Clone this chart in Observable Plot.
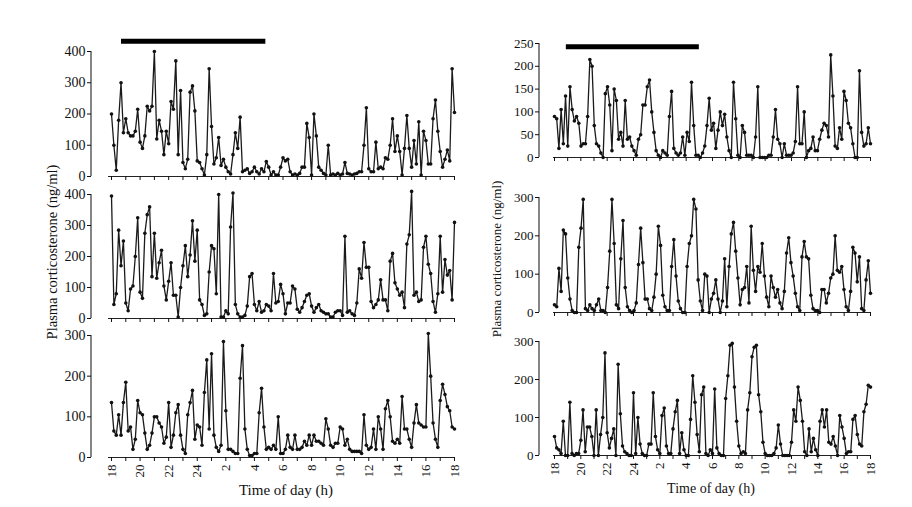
<!DOCTYPE html>
<html><head><meta charset="utf-8">
<script src="https://cdn.jsdelivr.net/npm/d3@7"></script>
<script src="https://cdn.jsdelivr.net/npm/@observablehq/plot@0.6"></script>
<style>
body{margin:0;background:#fff;}
#root{position:relative;width:912px;height:507px;overflow:hidden;font-family:"Liberation Serif","DejaVu Serif",serif;color:#111}
.panel{position:absolute}
.ylab{position:absolute;transform:translate(-50%,-50%) rotate(-90deg);white-space:nowrap}
.xlab{position:absolute;transform:translateX(-50%);white-space:nowrap}
</style></head>
<body><div id="root"></div>
<script>
// Plasma corticosterone (ng/ml), sampled every 10 min from 18:00 to 18:00
const topLeft = [200,100,20,180,300,140,185,140,130,130,145,215,110,90,130,225,210,225,400,120,180,145,70,145,105,240,215,370,70,275,45,25,55,270,290,210,50,45,25,5,70,345,160,40,60,125,35,55,30,15,8,70,140,90,190,15,20,25,10,15,30,15,8,25,15,48,30,5,15,5,5,30,60,50,55,15,5,8,5,10,30,30,170,125,5,200,130,30,20,10,5,100,5,8,5,10,5,8,45,10,8,5,8,10,15,15,100,220,25,15,15,110,25,30,25,60,55,100,185,80,130,80,5,90,195,90,30,115,40,175,5,145,115,40,40,185,245,145,80,30,55,85,50,345,205];
const midLeft = [395,45,80,285,170,250,50,25,95,105,200,325,85,65,275,335,360,135,275,130,180,220,105,60,120,180,75,75,5,100,170,235,135,205,315,185,285,60,45,10,15,150,235,225,80,400,5,5,25,15,295,405,45,15,5,5,10,40,135,145,45,25,55,20,25,45,40,25,145,50,55,110,80,15,50,50,105,95,30,20,35,55,75,80,40,20,35,45,25,20,15,15,5,5,20,25,25,10,265,20,25,15,10,50,160,130,245,165,165,55,35,45,60,125,60,60,25,185,210,115,95,75,85,35,240,270,410,75,85,55,60,230,265,175,145,55,20,80,265,85,190,140,155,60,310];
const botLeft = [135,65,55,105,55,135,185,65,75,20,45,140,110,105,60,20,30,60,100,100,85,75,35,50,135,25,55,110,130,55,20,10,105,135,165,45,80,75,30,160,240,70,255,55,25,15,30,285,115,20,20,15,10,10,195,275,70,20,5,5,10,10,110,170,75,20,25,20,30,20,100,10,10,20,55,25,20,55,20,20,25,40,30,55,30,55,40,40,35,30,95,70,30,25,35,35,75,70,30,45,20,15,15,15,15,10,105,30,20,25,70,20,100,70,20,120,140,100,40,35,45,35,150,70,70,45,25,85,130,85,80,75,75,305,200,85,45,25,140,180,155,125,115,75,70];
const topRight = [90,85,20,105,30,135,25,155,105,80,90,75,25,30,30,90,215,200,70,30,25,10,0,140,155,115,15,150,125,40,55,25,125,40,45,25,15,5,40,50,115,115,155,170,100,55,15,5,0,15,10,5,90,145,20,10,5,10,45,5,55,35,165,70,5,5,0,10,25,70,130,60,75,20,60,100,70,95,45,15,0,165,85,5,0,70,55,5,5,5,0,45,155,0,0,0,0,5,5,45,105,40,30,0,30,5,5,5,10,35,155,30,30,100,0,15,20,45,15,15,40,60,75,70,45,225,135,25,20,65,40,145,125,75,65,30,0,0,190,55,25,30,65,30];
const midRight = [20,15,115,55,215,205,90,35,5,0,0,170,220,295,10,5,20,10,5,20,35,5,5,0,65,160,295,180,20,10,140,240,65,15,5,0,5,25,125,220,130,35,35,10,5,40,100,225,175,45,15,5,5,120,190,95,30,10,0,0,120,180,200,295,270,85,30,5,100,95,0,35,50,85,35,0,30,140,15,120,205,235,160,90,20,60,65,120,25,225,110,55,120,105,180,95,40,15,95,65,40,60,25,10,55,155,195,130,95,50,15,5,145,185,145,140,45,10,5,5,0,60,60,25,50,90,100,200,110,105,120,60,15,5,55,170,155,80,145,10,5,85,135,50];
const botRight = [50,20,15,5,90,0,0,140,5,0,5,5,40,120,10,75,75,50,0,120,0,55,100,270,60,20,45,70,0,240,110,25,10,5,0,0,165,5,100,30,5,0,0,30,30,165,50,15,5,105,125,25,5,5,70,115,145,5,60,15,0,0,95,210,140,55,10,160,180,5,0,15,5,175,20,5,0,0,150,210,290,295,180,90,25,5,10,5,120,165,260,285,290,160,115,35,5,0,0,0,5,20,80,30,0,0,0,0,35,120,90,180,145,90,10,0,70,10,45,15,0,90,120,75,120,35,30,50,25,0,105,75,45,5,10,10,95,105,55,30,25,115,135,185,180];

// x axis: hours elapsed since 18:00
const hourTicks = [0,1,2,3,4,5,6,7,8,9,10,11,12,13,14,15,16,17,18,19,20,21,22,23,24];
const labelHours = [0,2,4,6,8,10,12,14,16,18,20,22,24];
const labelText = ["18","20","22","24","2","4","6","8","10","12","14","16","18"];
const yTicks400 = [0,100,200,300,400];
const yTicks300 = [0,100,200,300];
const yTicks250 = [0,50,100,150,200,250];
// dark period bars (hours since 18:00) and their level in data units
const darkLeft = [{x1: 0.7, x2: 10.8, y: 433}];
const darkRight = [{x1: 0.9, x2: 11.0, y: 243}];

const labelMap = new Map(labelHours.map((h, i) => [h, labelText[i]]));
const root = document.getElementById("root");

function series(values) {
  const n = values.length;
  return values.map((v, i) => ({t: i * 24 / (n - 1), v}));
}

function leftFrame(index, scales, values, dim) {
  const g = d3.create("svg:g");
  g.append("line").attr("x1", dim.marginLeft).attr("x2", dim.marginLeft)
    .attr("y1", dim.marginTop).attr("y2", dim.height - dim.marginBottom)
    .attr("stroke", "#222").attr("stroke-width", 1.1);
  return g.node();
}

function panel(o) {
  const data = series(o.values);
  const marks = [
    leftFrame,
    Plot.ruleY([0], {insetLeft: o.axisInset, stroke: "#222", strokeWidth: 1.1}),
    Plot.axisY({ticks: o.yTicks, tickSize: 4, tickPadding: 2, fontSize: o.yFont, label: null}),
    Plot.axisX({ticks: hourTicks, tickSize: 4, tickPadding: 3, fontSize: 13, label: null,
      tickFormat: o.labels ? (d) => labelMap.get(d) ?? "" : () => "",
      tickRotate: o.labels ? -90 : 0}),
    Plot.line(data, {x: "t", y: "v", stroke: "#1a1a1a", strokeWidth: 1.3}),
    Plot.dot(data, {x: "t", y: "v", r: 1.8, fill: "#111", stroke: "none"})
  ];
  if (o.dark) marks.push(Plot.ruleY(o.dark, {x1: "x1", x2: "x2", y: "y", stroke: "#000", strokeWidth: 5}));
  const chart = Plot.plot({
    width: o.width, height: o.height,
    marginLeft: o.mL, marginRight: o.mR, marginTop: o.mT, marginBottom: o.mB,
    x: {domain: [0, 24], insetLeft: o.inset, label: null},
    y: {domain: [0, o.yMax], label: null},
    style: {fontFamily: "Liberation Serif", fontSize: o.yFont + "px", color: "#111", background: "transparent", overflow: "visible"},
    marks
  });
  chart.classList.add("panel");
  chart.style.left = o.left + "px";
  chart.style.top = o.top + "px";
  root.appendChild(chart);
}

const L = {left: 40, width: 430, mL: 51, mR: 16, inset: 20, axisInset: 17, yFont: 14};
const R = {left: 485, width: 400, mL: 54, mR: 15, inset: 15, axisInset: 14, yFont: 13};

panel({...L, values: topLeft, yMax: 400, yTicks: yTicks400, top: 30, height: 154, mT: 21, mB: 8, dark: darkLeft});
panel({...L, values: midLeft, yMax: 400, yTicks: yTicks400, top: 184, height: 142, mT: 10, mB: 8});
panel({...L, values: botLeft, yMax: 300, yTicks: yTicks300, top: 325, height: 160, mT: 10, mB: 28, labels: true});
panel({...R, values: topRight, yMax: 250, yTicks: yTicks250, top: 30, height: 135, mT: 13, mB: 8, dark: darkRight});
panel({...R, values: midRight, yMax: 300, yTicks: yTicks300, top: 185, height: 135, mT: 12, mB: 8});
panel({...R, values: botRight, yMax: 300, yTicks: yTicks300, top: 330, height: 153, mT: 11, mB: 28, labels: true});

function addText(cls, text, x, y, size) {
  const d = document.createElement("div");
  d.className = cls;
  d.textContent = text;
  d.style.left = x + "px";
  d.style.top = y + "px";
  d.style.fontSize = size + "px";
  root.appendChild(d);
}
addText("ylab", "Plasma corticosterone (ng/ml)", 52, 252, 14.5);
addText("ylab", "Plasma corticosterone (ng/ml)", 497, 259, 13);
addText("xlab", "Time of day (h)", 286, 482, 15);
addText("xlab", "Time of day (h)", 711, 481, 14);
</script>
</body></html>
